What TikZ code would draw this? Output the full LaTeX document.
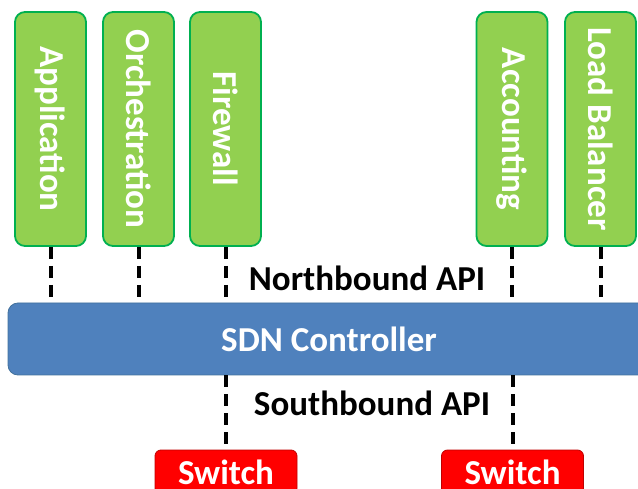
\documentclass[tikz,border=0pt]{standalone}
\usepackage{fontspec}
\setmainfont{Carlito}

\definecolor{appfill}{HTML}{92D050}
\definecolor{appedge}{HTML}{00B050}
\definecolor{ctrlfill}{HTML}{4F81BD}
\definecolor{ctrledge}{HTML}{41719C}
\definecolor{swfill}{HTML}{FF0000}
\definecolor{swedge}{HTML}{C00000}

\begin{document}
\begin{tikzpicture}[x=1pt, y=-1pt,
    app/.style={draw=appedge, fill=appfill, line width=1.8pt, rounded corners=10pt,
        minimum width=71pt, minimum height=234pt, inner sep=0pt},
    applabel/.style={rotate=-90, text=white, font=\fontsize{35}{35}\selectfont\bfseries},
    ctrl/.style={draw=ctrledge, fill=ctrlfill, line width=0.8pt, rounded corners=10pt,
        minimum width=642pt, minimum height=72pt, text=white,
        font=\fontsize{35}{35}\selectfont\bfseries},
    sw/.style={draw=swedge, fill=swfill, line width=0.8pt, rounded corners=6pt,
        minimum width=142pt, minimum height=44pt, inner sep=0pt, text=white,
        font=\fontsize{35}{35}\selectfont\bfseries},
    api/.style={font=\fontsize{35}{35}\selectfont\bfseries},
    link/.style={line width=4pt, dash pattern=on 12pt off 7pt}]
    \path[use as bounding box, clip] (0,0) rectangle (638,489);

    % applications on top
    \node[app, label={[applabel]center:Application}] (app) at (50.5, 129) {};
    \node[app, label={[applabel]center:Orchestration}] (orch) at (138.5, 129) {};
    \node[app, label={[applabel]center:Firewall}] (fw) at (225.5, 129) {};
    \node[app, label={[applabel]center:Accounting}] (acct) at (512, 129) {};
    \node[app, label={[applabel]center:Load Balancer}] (lb) at (600.5, 129) {};

    \node[ctrl] (sdn) at (329, 339) {SDN Controller};

    \node[sw] (sw1) at (226, 472) {Switch};
    \node[sw] (sw2) at (512.5, 472) {Switch};

    \node[api] (nb) at (367, 278) {Northbound API};
    \node[api] (sb) at (372, 403) {Southbound API};

    % northbound links
    \foreach \a in {app, orch, fw, acct, lb}
        \draw[link] (\a.south) -- (\a.south |- sdn.north);

    % southbound links
    \draw[link] (sw1.north |- sdn.south) -- (sw1.north);
    \draw[link] (sw2.north |- sdn.south) -- (sw2.north);
\end{tikzpicture}
\end{document}
